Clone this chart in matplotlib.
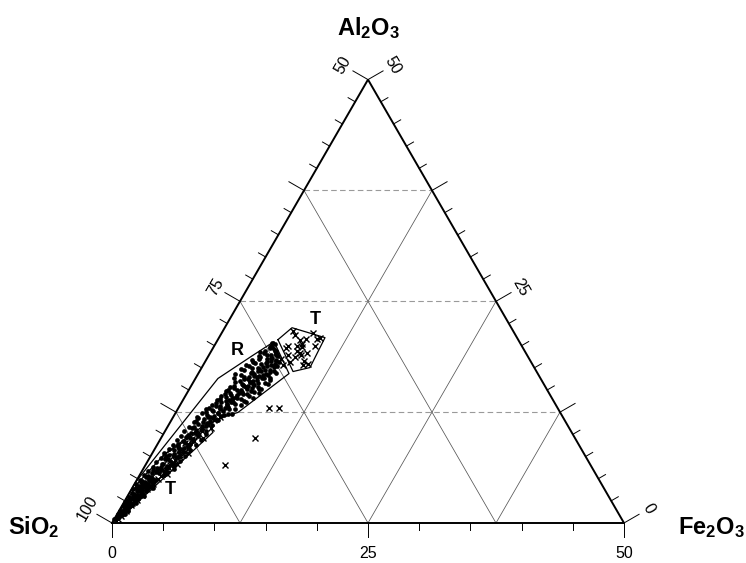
import numpy as np
import matplotlib
matplotlib.use("Agg")
import matplotlib.pyplot as plt

plt.rcParams["font.family"] = ["Liberation Sans", "DejaVu Sans"]
plt.rcParams["mathtext.fontset"] = "custom"
plt.rcParams["mathtext.rm"] = "Liberation Sans"
plt.rcParams["mathtext.bf"] = "Liberation Sans:bold"

# Al2O3 / Fe2O3 in wt% (SiO2 = 100 - Al2O3 - Fe2O3)
dot_al = [0.4, 0.6, 0.8, 0.9, 1.1, 1.2, 1.4, 1.5, 1.7, 1.8, 2.0, 2.1, 2.3, 2.4, 2.6, 2.7, 2.9, 3.0,
          3.2, 3.3, 3.5, 3.6, 3.8, 3.9, 4.1, 4.2, 4.4, 4.5, 4.7, 4.8, 5.0, 1.0, 1.9, 2.8, 3.7, 4.6,
          1.3, 2.2, 3.1, 4.0,
          0.45, 0.6, 0.9, 1.15, 1.4, 1.65, 1.9, 2.15, 2.4, 2.65, 2.9, 3.15, 3.4, 3.65, 3.85, 4.2,
          3.95, 4.35, 4.7, 4.45, 4.85, 5.2, 4.95,
          0.7, 1.3, 1.6, 2.2, 2.5, 2.8, 3.3, 3.6, 3.9, 4.3, 4.6, 4.9, 5.3, 5.7, 6.0, 6.3,
          1.0, 2.0, 3.0, 4.0, 5.0,
          5.2, 5.4, 5.6, 5.8, 6.0, 6.2, 6.4, 6.6, 6.8, 7.0, 7.2, 7.4, 7.6, 7.8, 8.0, 8.2, 8.4, 8.6,
          8.8, 9.0, 9.2, 9.4, 9.6, 9.8, 10.0, 6.1, 7.5, 8.9, 9.9,
          5.4, 5.65, 5.85, 6.2, 5.95, 6.35, 6.7, 6.45, 6.85, 7.2, 6.95, 7.35, 7.7, 7.45,
          7.85, 8.2, 7.95, 8.35, 8.7, 8.45, 8.85, 9.2, 8.95, 9.35, 9.7, 9.45, 9.85, 10.2,
          10.2, 10.4, 10.6, 10.8, 11.0, 11.2, 11.4, 11.6, 11.8, 12.0, 12.2, 12.4, 12.6, 12.8, 13.0,
          13.2, 13.4, 13.6, 13.8, 14.0, 14.2, 14.4, 14.6, 14.8, 15.0, 15.2, 15.4, 15.6, 15.8, 16.0,
          16.2, 16.4, 16.6, 16.8, 17.0, 17.2, 17.4, 17.6, 17.8, 18.0, 18.2, 18.4, 18.6, 18.8, 19.0,
          19.2, 19.4, 19.6, 19.8, 20.0, 20.3, 11.5, 12.5, 13.5, 14.5, 15.5, 16.5, 17.5, 18.5, 19.3,
          19.0, 18.0, 17.0, 16.0, 15.0, 14.0, 13.0, 12.0, 13.7, 15.1, 16.3, 12.3, 14.9, 16.9,
          13.3, 14.1, 14.7, 15.3, 15.9, 16.5, 17.1, 17.7, 18.3, 18.9, 12.9, 13.9, 15.7, 16.7, 17.9,
          11.3, 10.9, 12.1,
          10.35, 10.7, 10.45, 10.85, 11.2, 10.95, 11.35, 11.7, 11.45, 11.6,
          11.85, 12.2, 11.95, 12.1, 12.35, 12.7, 12.45, 12.6, 12.3,
          12.85, 13.2, 12.95, 13.1, 12.8, 13.35, 13.7, 13.45, 13.6, 13.3,
          13.85, 14.2, 13.95, 14.1, 13.8, 14.15, 14.35, 14.7, 14.45, 14.6, 14.3, 14.65,
          14.85, 15.2, 14.95, 15.1, 14.8, 15.15, 15.35, 15.7, 15.45, 15.6, 15.3, 15.65,
          15.85, 16.2, 15.95, 16.1, 15.8, 16.15, 16.35, 16.7, 16.45, 16.6, 16.3, 16.65,
          16.85, 17.2, 16.95, 17.1, 16.8, 17.15, 17.35, 17.7, 17.45, 17.6, 17.3, 17.65,
          17.85, 18.2, 17.95, 18.1, 17.8, 18.35, 18.7, 18.45, 18.6, 18.3,
          18.85, 19.2, 18.95, 19.1, 19.35, 19.7, 19.45, 19.85, 20.15]
dot_fe = [0.1, 0.3, 0.2, 0.5, 0.3, 0.6, 0.4, 0.7, 0.5, 0.8, 0.6, 0.9, 0.7, 1.0, 0.8, 1.2, 0.9, 1.3,
          0.8, 1.4, 1.1, 1.5, 1.0, 1.6, 1.2, 1.7, 1.3, 1.8, 1.4, 1.9, 1.5, 0.1, 0.3, 0.5, 0.7, 0.9,
          0.9, 1.2, 1.6, 2.0,
          0.0, 0.2, 0.2, 0.4, 0.1, 0.5, 0.2, 0.4, 0.1, 0.4, 0.2, 0.5, 0.3, 0.6, 0.1, 0.5,
          0.9, 0.2, 0.6, 1.0, 0.3, 0.7, 1.1,
          0.35, 0.15, 0.35, 0.55, 0.25, 0.75, 0.45, 0.95, 0.35, 0.8, 0.5, 1.2, 0.9, 1.4, 1.0, 1.6,
          0.75, 1.0, 1.1, 1.4, 1.3,
          1.2, 2.4, 1.8, 2.6, 1.4, 2.2, 2.9, 1.7, 2.5, 3.1, 1.9, 2.7, 3.3, 2.2, 2.9, 3.5, 2.3, 3.1,
          3.8, 2.6, 3.3, 4.0, 2.8, 3.5, 4.2, 3.0, 1.5, 2.0, 2.5,
          0.4, 1.1, 0.6, 1.3, 1.8, 0.8, 1.5, 2.1, 0.9, 1.6, 2.2, 1.1, 1.7, 2.5,
          1.2, 2.0, 2.6, 1.4, 2.1, 2.8, 1.5, 2.3, 3.1, 1.7, 2.4, 3.2, 1.8, 2.6,
          3.0, 4.0, 3.5, 2.6, 4.3, 3.8, 3.2, 4.6, 4.0, 3.4, 4.8, 4.2, 3.6, 5.0, 4.5,
          3.9, 5.3, 4.8, 4.2, 5.6, 5.0, 4.4, 5.9, 5.3, 4.7, 6.1, 5.6, 5.0, 6.4, 5.8,
          5.2, 6.6, 6.1, 5.5, 6.9, 6.3, 5.7, 7.0, 6.6, 6.0, 7.2, 6.8, 6.2, 6.8, 6.5,
          6.4, 6.3, 6.0, 5.7, 5.5, 5.5, 2.5, 2.9, 3.4, 3.8, 4.2, 4.6, 4.9, 5.1, 4.8,
          5.6, 5.0, 5.2, 4.5, 3.8, 3.5, 3.0, 2.3, 6.2, 6.8, 7.3, 5.6, 6.1, 7.6,
          4.6, 4.8, 5.1, 5.4, 5.5, 5.9, 6.0, 6.3, 6.4, 6.7, 4.1, 4.5, 5.9, 6.4, 7.0,
          3.6, 3.3, 3.9,
          1.9, 2.5, 3.0, 2.1, 2.8, 3.7, 2.3, 3.1, 3.8, 4.5,
          2.5, 3.2, 3.6, 4.6, 2.6, 3.4, 4.1, 4.5, 5.2,
          2.8, 3.6, 4.1, 4.8, 5.6, 3.1, 3.8, 4.5, 5.0, 5.9,
          3.3, 4.0, 4.7, 5.2, 6.0, 6.7, 3.5, 4.2, 5.0, 5.5, 6.2, 7.0,
          3.7, 4.3, 5.1, 5.6, 6.5, 7.0, 3.8, 4.8, 5.2, 6.1, 6.6, 7.4,
          4.1, 4.8, 5.5, 6.1, 7.0, 7.4, 3.7, 4.2, 5.2, 5.6, 6.5, 6.9,
          3.6, 4.3, 5.1, 5.7, 6.6, 7.2, 3.9, 4.5, 5.5, 5.9, 6.8, 7.3,
          4.2, 4.7, 5.6, 6.1, 7.0, 4.5, 5.1, 5.9, 6.3, 6.9,
          4.9, 5.2, 6.1, 6.5, 5.3, 5.6, 6.2, 5.5, 5.8]

cross_al = [0.5, 0.8, 1.1, 1.4, 1.7, 2.0, 2.3, 2.6, 2.9, 3.2, 3.5, 3.8, 4.1, 4.4, 4.7, 5.0, 5.3,
            5.6, 5.9, 6.2, 6.5, 6.8, 7.1, 7.4, 7.7, 8.0, 8.3, 8.6, 8.9, 9.2, 9.5, 9.8, 10.1, 10.4,
            7.5, 8.2, 9.0, 6.0, 4.0, 3.0, 11.9, 11.6, 5.5, 6.7, 7.9, 9.6, 10.7,
            21.7, 20.6, 20.2, 19.8, 19.4, 20.8, 21.4, 20.9, 18.7, 18.1, 17.8, 17.9, 18.9, 19.7,
            18.5, 19.2, 19.2, 20.8, 20.0, 20.0, 17.8, 21.2, 20.0, 19.0, 18.3,
            13.0, 13.0, 9.6, 6.5]
cross_fe = [0.3, 0.5, 0.4, 0.7, 0.6, 0.9, 0.8, 1.1, 1.0, 1.3, 1.2, 1.5, 1.6, 1.8, 1.7, 2.0, 2.1,
            2.3, 2.2, 2.5, 2.4, 2.7, 2.6, 2.9, 2.8, 3.1, 2.7, 3.2, 3.0, 3.4, 3.1, 3.5, 3.3, 3.6,
            2.2, 2.4, 2.6, 1.9, 1.3, 0.8, 4.6, 4.2, 2.6, 3.0, 3.5, 4.1, 4.3,
            6.8, 8.1, 8.5, 8.7, 8.4, 8.5, 8.9, 9.9, 8.5, 8.3, 9.8, 10.2, 7.7, 7.1,
            7.3, 9.4, 8.8, 9.6, 8.1, 7.2, 7.8, 7.3, 9.8, 9.0, 9.6,
            8.8, 9.8, 9.2, 7.8]

# field outlines (Al2O3, Fe2O3)
field_r = [(0.3, 0.05), (4.6, 0.0), (16.3, 2.2), (18.9, 4.3), (20.45, 5.6), (16.85, 8.86),
           (12.47, 6.07), (11.91, 4.79), (11.2, 4.0), (7.6, 1.2), (4.6, 0.3)]
field_t_low = [(0.2, 0.4), (10.22, 4.75), (11.35, 3.7), (7.64, 1.16), (6.97, 1.89),
               (4.6, 1.2), (0.4, 0.1)]
field_t_high = [(20.67, 5.87), (22.02, 6.57), (20.9, 10.35), (17.53, 10.57), (17.08, 9.14)]

side_ticks = np.arange(0, 50.01, 2.5)
bottom_ticks = np.arange(0, 50.01, 5)
major = [0, 12.5, 25, 37.5, 50]
grid_levels = [12.5, 25, 37.5]

H = np.sqrt(3) / 2


def tern(al, fe):
    al = np.asarray(al, dtype=float)
    fe = np.asarray(fe, dtype=float)
    return fe + al / 2, al * H


fig = plt.figure(figsize=(7.46, 5.63), dpi=100)
ax = fig.add_axes([0, 0, 1, 1])
ax.set_xlim(-112 / 10.24, (746 - 112) / 10.24)
ax.set_ylim(-(563 - 523) / 10.24, 523 / 10.24)
ax.axis("off")

# grid
for g in grid_levels:
    x, y = tern([g, g], [0, 50 - g])
    ax.plot(x, y, color="#9a9a9a", lw=0.8, ls=(0, (5, 3)), zorder=1)
    x, y = tern([0, 50 - g], [g, g])
    ax.plot(x, y, color="#555555", lw=0.55, zorder=1)
    x, y = tern([0, g], [g, 0])
    ax.plot(x, y, color="#555555", lw=0.55, zorder=1)

# triangle
x, y = tern([0, 50, 0, 0], [0, 0, 50, 0])
ax.plot(x, y, color="black", lw=1.4, zorder=3, solid_joinstyle="miter")

# ticks
nl = np.array([-H, 0.5])
nr = np.array([H, 0.5])
for t in side_ticks:
    ln = 1.7 if t in major else 0.8
    x0, y0 = tern(t, 0)
    ax.plot([x0, x0 + nl[0] * ln], [y0, y0 + nl[1] * ln], color="black", lw=0.7, zorder=2)
    x0, y0 = tern(t, 50 - t)
    ax.plot([x0, x0 + nr[0] * ln], [y0, y0 + nr[1] * ln], color="black", lw=0.7, zorder=2)
for t in bottom_ticks:
    ln = 1.4 if t in (0, 25, 50) else 0.7
    x0, y0 = tern(0, t)
    ax.plot([x0, x0], [y0, y0 - ln], color="black", lw=0.7, zorder=2)

# tick labels
for t, lab in [(0, "100"), (25, "75"), (50, "50")]:
    x0, y0 = tern(t, 0)
    ax.text(x0 + nl[0] * 2.8, y0 + nl[1] * 2.8, lab, rotation=60, fontsize=11.5,
            ha="center", va="center")
for t, lab in [(0, "0"), (25, "25"), (50, "50")]:
    x0, y0 = tern(t, 50 - t)
    ax.text(x0 + nr[0] * 2.8, y0 + nr[1] * 2.8, lab, rotation=-60, fontsize=11.5,
            ha="center", va="center")
for t in (0, 25, 50):
    x0, y0 = tern(0, t)
    ax.text(x0, y0 - 3.0, str(t), fontsize=11.5, ha="center", va="center")

# corner names
ax.text(25, 48.3, r"$\mathbf{Al_2O_3}$", fontsize=17, ha="center", va="center")
ax.text(-7.6, -0.4, r"$\mathbf{SiO_2}$", fontsize=17, ha="center", va="center")
ax.text(58.5, -0.4, r"$\mathbf{Fe_2O_3}$", fontsize=17, ha="center", va="center")

# fields
for poly in (field_r, field_t_low, field_t_high):
    a = [p[0] for p in poly] + [poly[0][0]]
    f = [p[1] for p in poly] + [poly[0][1]]
    x, y = tern(a, f)
    ax.plot(x, y, color="black", lw=0.9, zorder=4)

x, y = tern(dot_al, dot_fe)
ax.plot(x, y, "o", color="black", ms=3.4, mew=0, zorder=5)
x, y = tern(cross_al, cross_fe)
ax.plot(x, y, "x", color="black", ms=4.0, mew=1.0, zorder=5)

x, y = tern(19.4, 2.5)
ax.text(x, y, "R", fontsize=13, fontweight="bold", ha="center", va="center")
x, y = tern(22.9, 8.4)
ax.text(x, y, "T", fontsize=13, fontweight="bold", ha="center", va="center")
x, y = tern(3.8, 3.75)
ax.text(x, y, "T", fontsize=13, fontweight="bold", ha="center", va="center")

fig.savefig("out.png", dpi=100)
